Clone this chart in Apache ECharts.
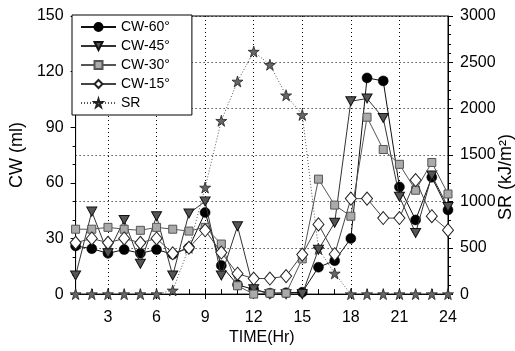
<!DOCTYPE html>
<html><head><meta charset="utf-8">
<script src="https://cdn.jsdelivr.net/npm/echarts@6/dist/echarts.min.js"></script>
<style>html,body{margin:0;padding:0;background:#fff}#c{width:515px;height:351px}</style>
</head><body><div id="c"></div>
<script>
const hours = ['1','2','3','4','5','6','7','8','9','10','11','12','13','14','15','16','17','18','19','20','21','22','23','24'];
const cw60 = [26, 24.5, 22, 24, 22, 24, 21.5, 25, 44, 15.4, 5, 2.5, 0.5, 0.7, 1, 14.5, 18, 30, 116.6, 115, 57.8, 40, 63, 45.4];
const cw45 = [10, 44.5, 22, 40, 16.4, 42, 10, 43.5, 50, 10, 36.6, 2.6, 0, 0, 0, 24, 38.5, 104, 105.5, 95, 52.5, 33, 64, 47];
const cw30 = [35, 35, 36, 35, 34.4, 36, 35, 34, 36, 27, 4.5, 0, 0.5, 0.5, 19, 62, 48, 42, 95.4, 78, 70, 56, 71, 54];
const cw15 = [27.7, 30, 27.7, 30, 27.7, 30, 22, 25, 34.4, 22.4, 11, 8.4, 8.4, 9.7, 21.3, 37.6, 21.5, 51.5, 51.5, 41, 41, 61.5, 42, 34.5];
const sr = [0, 0, 0, 0, 0, 0, 40, 500, 1150, 1870, 2294, 2616, 2474, 2145, 1933, 488, 223, 0, 0, 0, 0, 0, 0, 0];
const cwTicks = {min: 0, max: 150, interval: 30};
const srTicks = {min: 0, max: 3000, interval: 500};

const FONT = 'Liberation Sans, Arial, sans-serif';
const STAR = 'path://M50,0 L61,35 L98,35 L68,57 L79,91 L50,70 L21,91 L32,57 L2,35 L39,35 Z';
const TRI_DOWN = 'path://M0,0 L10,0 L5,9 Z';
const major = (i, v) => Number(v) % 3 === 0;

const chart = echarts.init(document.getElementById('c'), null, {renderer: 'canvas'});
chart.setOption({
  animation: false,
  backgroundColor: '#fff',
  textStyle: {fontFamily: FONT},
  grid: {left: 63, right: 67, top: 16, bottom: 52, show: true, borderColor: '#000', borderWidth: 1},
  legend: {
    orient: 'vertical', left: 72, top: 15,
    itemWidth: 35, itemHeight: 10, itemGap: 5,
    padding: [5, 22, 5, 8],
    borderColor: '#000', borderWidth: 1, backgroundColor: '#fff',
    textStyle: {fontFamily: FONT, fontSize: 14, color: '#000'},
    data: ['CW-60°', 'CW-45°', 'CW-30°', 'CW-15°', 'SR']
  },
  xAxis: [{
    type: 'category', data: hours, boundaryGap: false, position: 'bottom',
    name: 'TIME(Hr)', nameLocation: 'middle', nameGap: 32,
    nameTextStyle: {fontFamily: FONT, fontSize: 16, color: '#000'},
    axisLine: {lineStyle: {color: '#000', width: 1}},
    axisTick: {interval: major, length: 5, lineStyle: {color: '#000'}},
    axisLabel: {interval: major, margin: 15, fontFamily: FONT, fontSize: 16, color: '#000'},
    splitLine: {show: true, interval: major, lineStyle: {color: '#000', type: [1, 3], width: 1}}
  }, {
    type: 'category', data: hours, boundaryGap: false, position: 'bottom', offset: 0,
    axisLine: {show: false},
    axisTick: {show: true, inside: true, interval: 0, length: 5, lineStyle: {color: '#000'}},
    axisLabel: {show: false},
    splitLine: {show: false}
  }],
  yAxis: [{
    type: 'value', position: 'left', min: cwTicks.min, max: cwTicks.max, interval: cwTicks.interval,
    name: 'CW (ml)', nameLocation: 'middle', nameGap: 40, nameRotate: 90,
    nameTextStyle: {fontFamily: FONT, fontSize: 18, color: '#000'},
    axisLine: {show: true, lineStyle: {color: '#000'}},
    axisTick: {show: true, length: 5, lineStyle: {color: '#000'}},
    minorTick: {show: true, splitNumber: 3, length: 3, lineStyle: {color: '#000'}},
    axisLabel: {margin: 12, fontFamily: FONT, fontSize: 16, color: '#000'},
    splitLine: {show: false}
  }, {
    type: 'value', position: 'right', min: srTicks.min, max: srTicks.max, interval: srTicks.interval,
    axisLine: {show: true, lineStyle: {color: '#000'}},
    axisTick: {show: true, length: 5, lineStyle: {color: '#000'}},
    minorTick: {show: true, splitNumber: 5, length: 3, lineStyle: {color: '#000'}},
    axisLabel: {margin: 12, fontFamily: FONT, fontSize: 16, color: '#000', formatter: v => String(v)},
    splitLine: {show: true, lineStyle: {color: '#000', type: [1, 3], width: 1}}
  }],
  graphic: [{
    type: 'text', left: 497, top: 134, rotation: Math.PI / 2,
    style: {text: 'SR (kJ/m²)', fontFamily: FONT, fontSize: 18, fill: '#000'}
  }],
  series: [{
    name: 'SR', type: 'line', data: sr, yAxisIndex: 1, z: 2,
    symbol: STAR, symbolSize: 11, showAllSymbol: true,
    lineStyle: {color: '#555', width: 1, type: [1, 2]},
    itemStyle: {color: '#666', borderColor: '#222', borderWidth: 0.8}
  }, {
    name: 'CW-60°', type: 'line', data: cw60, z: 3,
    symbol: 'circle', symbolSize: 10, showAllSymbol: true,
    lineStyle: {color: '#111', width: 1},
    itemStyle: {color: '#000', borderColor: '#000', borderWidth: 0.5}
  }, {
    name: 'CW-45°', type: 'line', data: cw45, z: 4,
    symbol: TRI_DOWN, symbolSize: [10, 9], showAllSymbol: true,
    lineStyle: {color: '#333', width: 1},
    itemStyle: {color: '#555', borderColor: '#111', borderWidth: 1}
  }, {
    name: 'CW-30°', type: 'line', data: cw30, z: 5,
    symbol: 'rect', symbolSize: 8, showAllSymbol: true,
    lineStyle: {color: '#555', width: 1},
    itemStyle: {color: '#aaa', borderColor: '#555', borderWidth: 1}
  }, {
    name: 'CW-15°', type: 'line', data: cw15, z: 6,
    symbol: 'diamond', symbolSize: [11, 13], showAllSymbol: true,
    lineStyle: {color: '#444', width: 1},
    itemStyle: {color: '#fff', borderColor: '#222', borderWidth: 1}
  }]
});
</script></body></html>
